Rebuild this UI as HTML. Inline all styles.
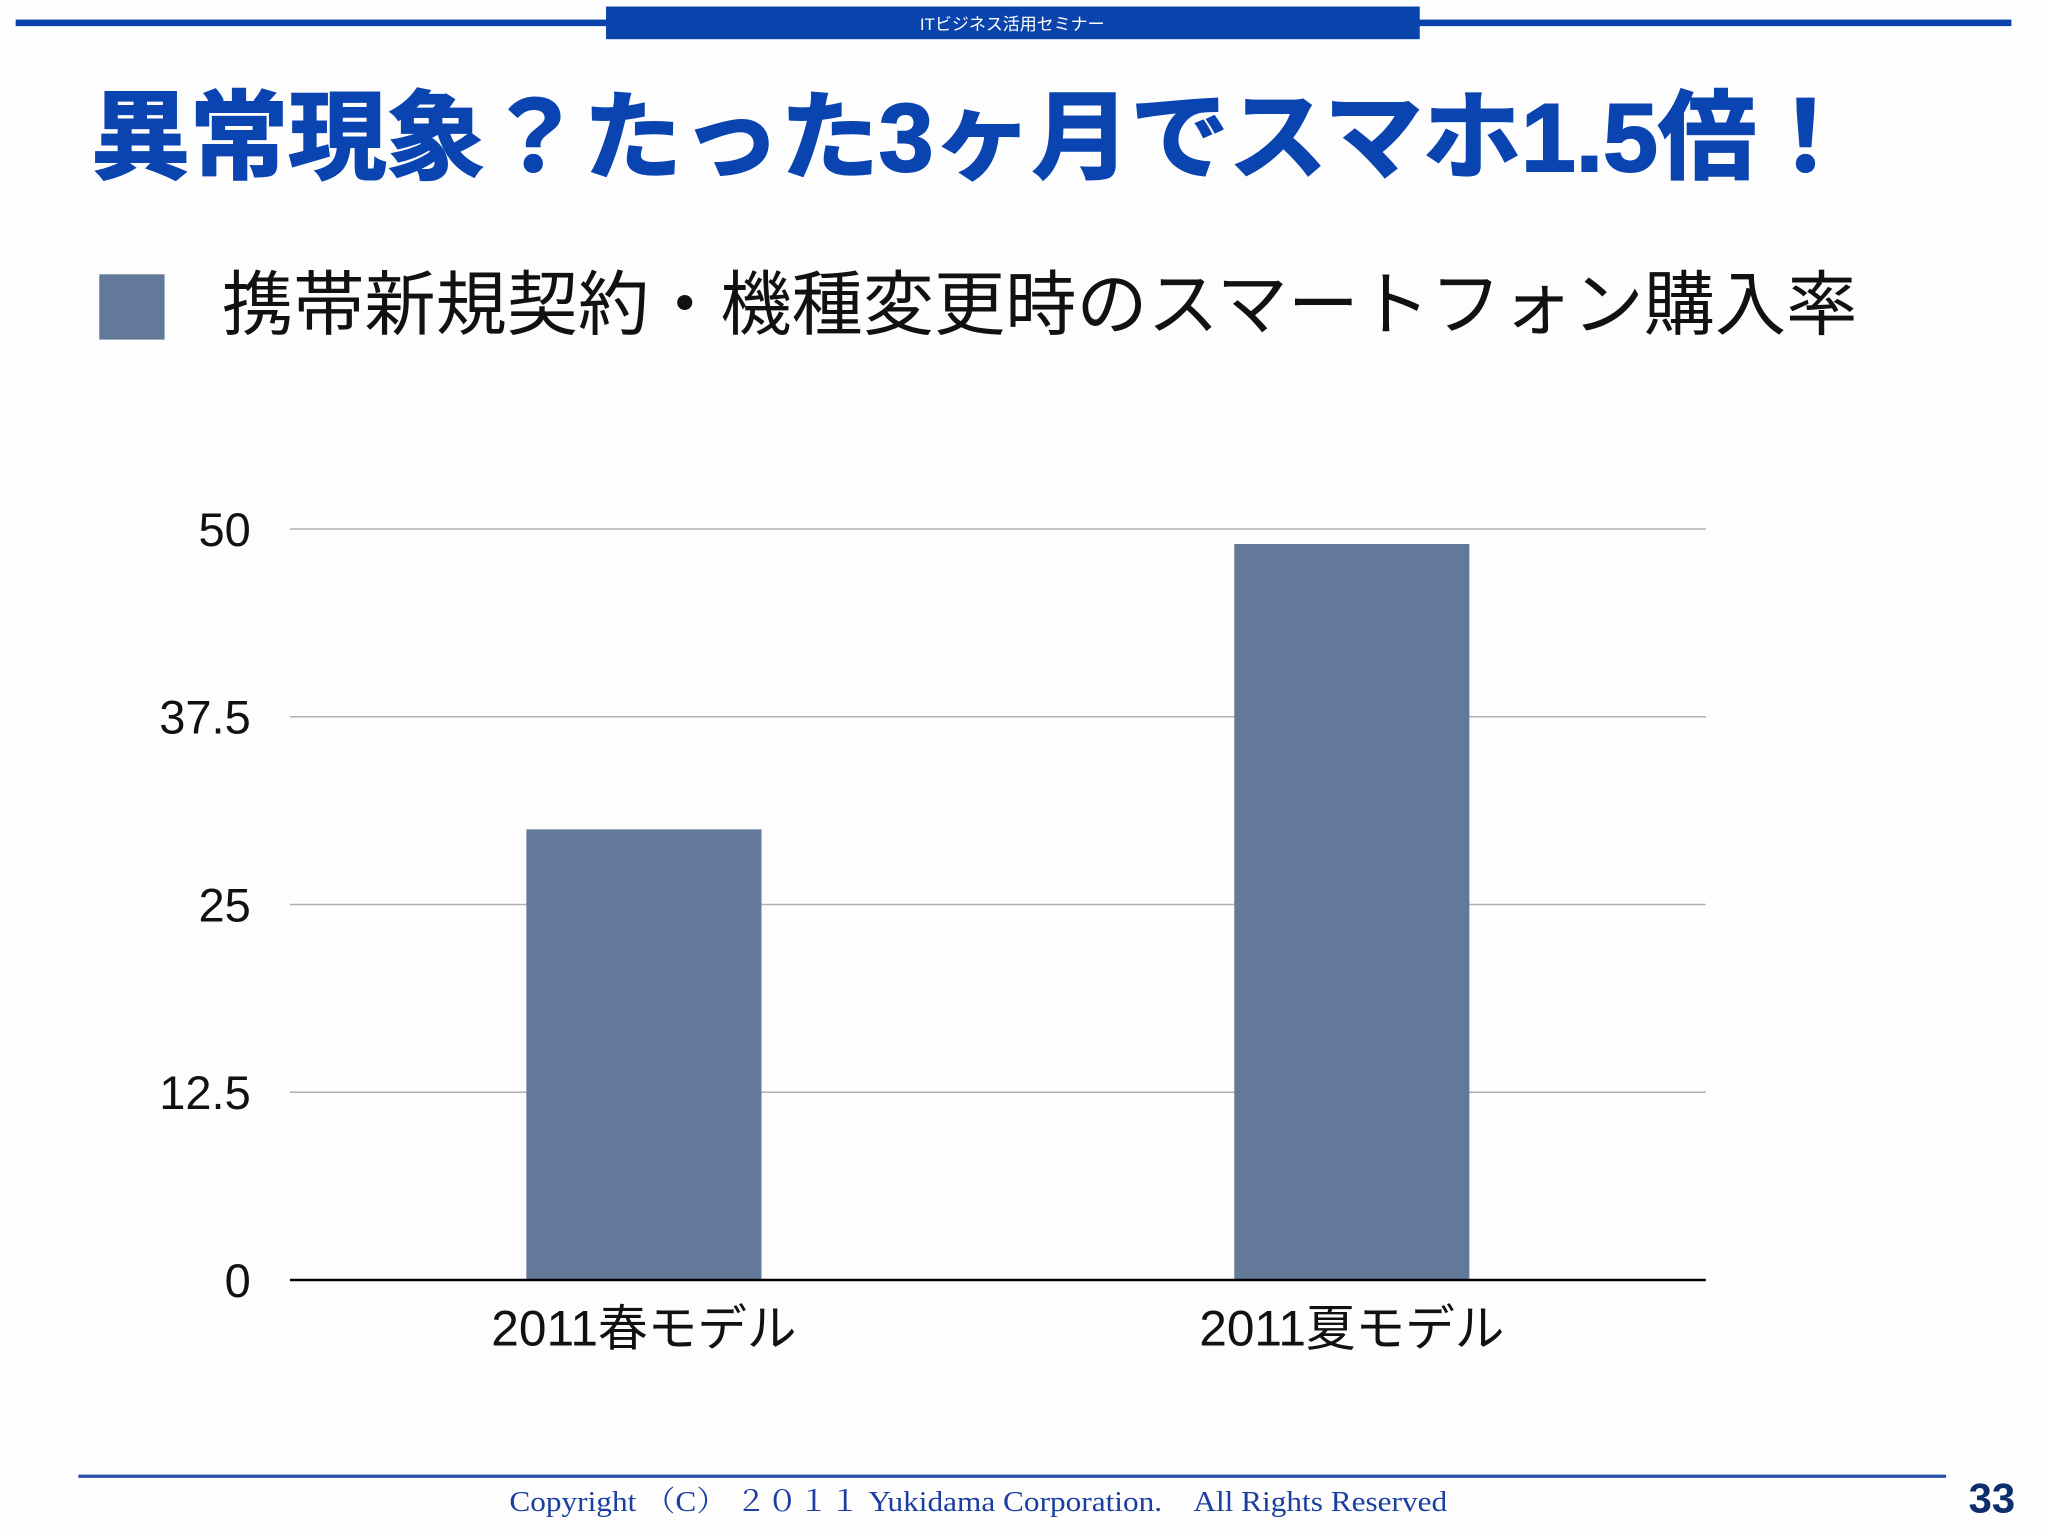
<!DOCTYPE html>
<html><head><meta charset="utf-8"><style>
html,body{margin:0;padding:0;background:#fff}
svg{display:block}
text{font-family:"Liberation Sans","Noto Sans CJK JP",sans-serif}
</style></head><body>
<svg id="chart" width="2048" height="1536" viewBox="0 0 1568 1176" xmlns="http://www.w3.org/2000/svg">
<rect x="0" y="0" width="1568" height="1176" fill="#fdfdfe"/>
<rect x="12" y="15" width="1528" height="5" fill="#0a43ac"/>
<rect x="464" y="5" width="623" height="25" fill="#0a43ac"/>
<text x="775" y="23" font-size="13" fill="#fff" text-anchor="middle">ITビジネス活用セミナー</text>
<text x="70" y="131" font-size="74" font-weight="bold" fill="#0a44b0" stroke="#0a44b0" stroke-width="1.5" textLength="1350" lengthAdjust="spacingAndGlyphs">異常現象？たった3ヶ月でスマホ1.5倍！</text>
<rect x="76" y="210" width="50" height="50" fill="#64799a"/>
<text x="170" y="252" font-size="54" fill="#111" textLength="1252" lengthAdjust="spacingAndGlyphs">携帯新規契約・機種変更時のスマートフォン購入率</text>
<g id="plot"></g>
<rect x="60" y="1129" width="1430" height="2.5" fill="#2c4fb0"/>
<text x="390" y="1157" font-size="22" fill="#1a3fa0" textLength="718" lengthAdjust="spacingAndGlyphs" style="font-family:'Liberation Serif','Noto Serif CJK SC',serif">Copyright （C） ２０１１ Yukidama Corporation.　All Rights Reserved</text>
<text x="1525" y="1158" font-size="32" font-weight="bold" fill="#0c2d6e" text-anchor="middle">33</text>
</svg>
<script>
const categories = ["2011春モデル", "2011夏モデル"];
const values = [30, 49];
const ticks = [0, 12.5, 25, 37.5, 50];
const tickLabels = ["0", "12.5", "25", "37.5", "50"];

const NS = "http://www.w3.org/2000/svg";
const g = document.getElementById("plot");
const x0 = 222, x1 = 1306, yBase = 980, yTop = 405, vMax = 50;
const y = v => yBase - (v / vMax) * (yBase - yTop);
const band = (x1 - x0) / categories.length;
const xc = i => x0 + band * (i + 0.5);
const barW = 180;
function mk(tag, attrs) { const e = document.createElementNS(NS, tag); for (const k in attrs) e.setAttribute(k, attrs[k]); g.appendChild(e); return e; }

ticks.forEach((t, i) => {
  if (t !== 0) {
    const l = mk("line", { x1: x0, x2: x1, y1: y(t), y2: y(t), stroke: "#b0b0b0", "stroke-width": 1.2 });
    
    
  }
  const tx = mk("text", { x: 192, y: y(t) + 13, "font-size": 36, "text-anchor": "end", fill: "#111" });
  tx.textContent = tickLabels[i];
  
  
});
values.forEach((v, i) => {
  const r = mk("rect", { x: xc(i) - barW / 2, y: y(v), width: barW, height: yBase - y(v), fill: "#62799a" });
  
  
  const tx = mk("text", { x: xc(i), y: 1030, "font-size": 38, "text-anchor": "middle", fill: "#111" });
  tx.textContent = categories[i];
  
  
});
const ax = mk("line", { x1: x0, x2: x1, y1: yBase, y2: yBase, stroke: "#000", "stroke-width": 2 });


</script>
</body></html>
